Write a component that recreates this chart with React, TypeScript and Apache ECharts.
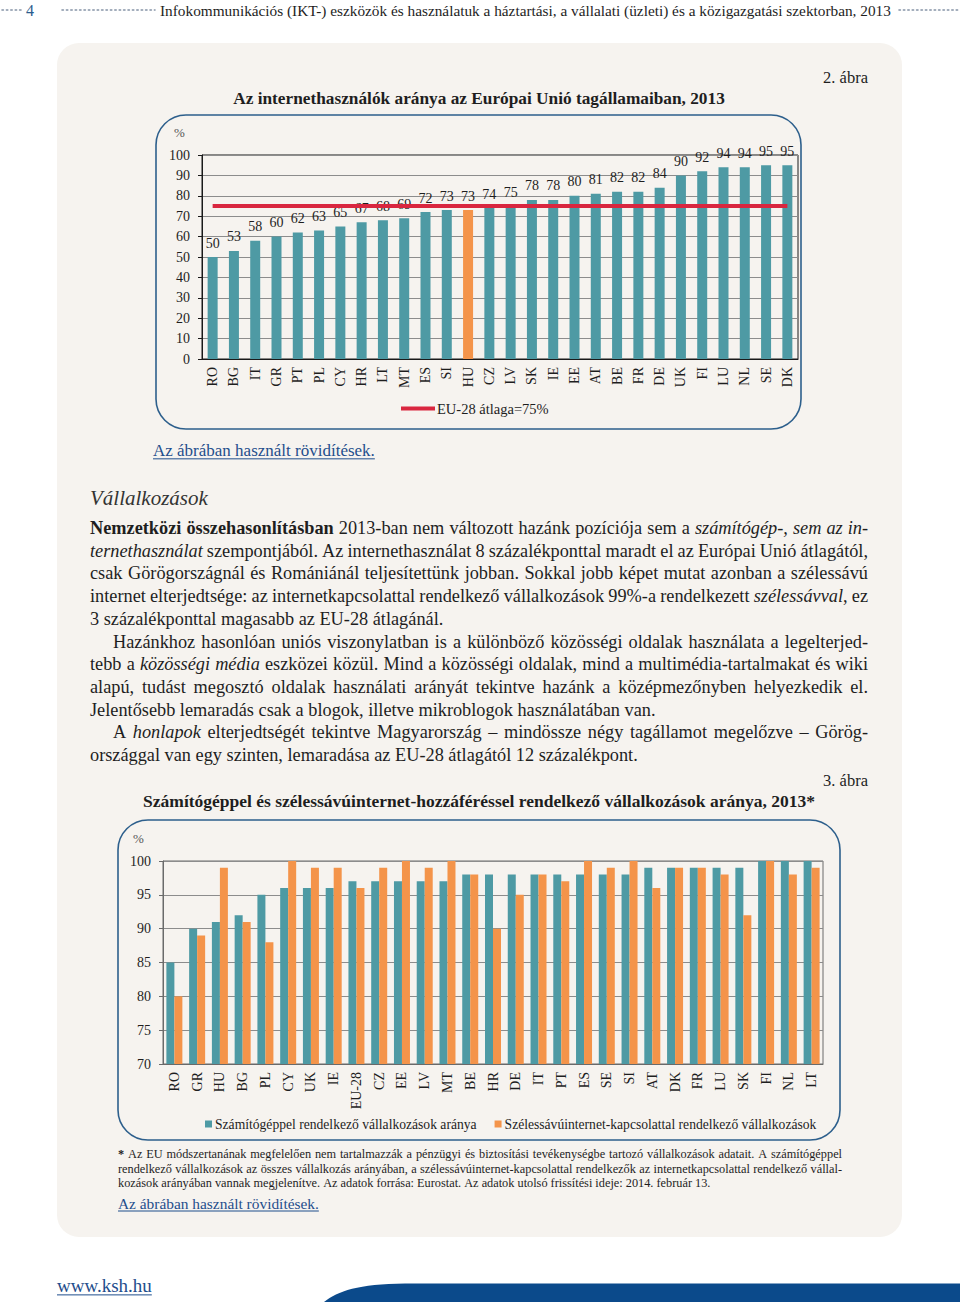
import React, { useEffect, useRef } from 'react';
import * as echarts from 'echarts';

// ---------- data ----------
const euCountries = ['RO', 'BG', 'IT', 'GR', 'PT', 'PL', 'CY', 'HR', 'LT', 'MT', 'ES', 'SI', 'HU', 'CZ', 'LV', 'SK', 'IE', 'EE', 'AT', 'BE', 'FR', 'DE', 'UK', 'FI', 'LU', 'NL', 'SE', 'DK'];
const internetUsers = [50, 53, 58, 60, 62, 63, 65, 67, 68, 69, 72, 73, 73, 74, 75, 78, 78, 80, 81, 82, 82, 84, 90, 92, 94, 94, 95, 95];
const euAverage = 75;
const highlightCountry = 'HU';
const averageName = 'EU-28 átlaga=75%';

const firmCountries = ['RO', 'GR', 'HU', 'BG', 'PL', 'CY', 'UK', 'IE', 'EU-28', 'CZ', 'EE', 'LV', 'MT', 'BE', 'HR', 'DE', 'IT', 'PT', 'ES', 'SE', 'SI', 'AT', 'DK', 'FR', 'LU', 'SK', 'FI', 'NL', 'LT'];
const computerShare = [85, 90, 91, 92, 95, 96, 96, 96, 97, 97, 97, 97, 97, 98, 98, 98, 98, 98, 98, 98, 98, 99, 99, 99, 99, 99, 100, 100, 100];
const broadbandShare = [80, 89, 99, 91, 88, 100, 99, 99, 96, 99, 100, 99, 100, 98, 90, 95, 98, 97, 100, 99, 100, 96, 99, 99, 98, 92, 100, 98, 99];
const computerName = 'Számítógéppel rendelkező vállalkozások aránya';
const broadbandName = 'Szélessávúinternet-kapcsolattal rendelkező vállalkozások';

const headerTitle = 'Infokommunikációs (IKT-) eszközök és használatuk a háztartási, a vállalati (üzleti) és a közigazgatási szektorban, 2013';
const pageNumber = '4';
const figure2Label = '2. ábra';
const figure2Title = 'Az internethasználók aránya az Európai Unió tagállamaiban, 2013';
const figure3Label = '3. ábra';
const figure3Title = 'Számítógéppel és szélessávúinternet-hozzáféréssel rendelkező vállalkozások aránya, 2013*';
const abbrevLink = 'Az ábrában használt rövidítések.';
const sectionHeading = 'Vállalkozások';
const siteLink = 'www.ksh.hu';

// ^...^ = bold, ~...~ = italic
const paragraphs = [
  [
    '^Nemzetközi összehasonlításban^ 2013-ban nem változott hazánk pozíciója sem a ~számítógép-, sem az in-~',
    '~ternethasználat~ szempontjából. Az internethasználat 8 százalékponttal maradt el az Európai Unió átlagától,',
    'csak Görögországnál és Romániánál teljesítettünk jobban. Sokkal jobb képet mutat azonban a szélessávú',
    'internet elterjedtsége: az internetkapcsolattal rendelkező vállalkozások 99%-a rendelkezett ~szélessávval~, ez',
    '3 százalékponttal magasabb az EU-28 átlagánál.',
  ],
  [
    'Hazánkhoz hasonlóan uniós viszonylatban is a különböző közösségi oldalak használata a legelterjed-',
    'tebb a ~közösségi média~ eszközei közül. Mind a közösségi oldalak, mind a multimédia-tartalmakat és wiki',
    'alapú, tudást megosztó oldalak használati arányát tekintve hazánk a középmezőnyben helyezkedik el.',
    'Jelentősebb lemaradás csak a blogok, illetve mikroblogok használatában van.',
  ],
  [
    'A ~honlapok~ elterjedtségét tekintve Magyarország – mindössze négy tagállamot megelőzve – Görög-',
    'országgal van egy szinten, lemaradása az EU-28 átlagától 12 százalékpont.',
  ],
];

const footnoteLines = [
  '^*^ Az EU módszertanának megfelelően nem tartalmazzák a pénzügyi és biztosítási tevékenységbe tartozó vállalkozások adatait. A számítógéppel',
  'rendelkező vállalkozások az összes vállalkozás arányában, a szélessávúinternet-kapcsolattal rendelkezők az internetkapcsolattal rendelkező vállal-',
  'kozások arányában vannak megjelenítve. Az adatok forrása: Eurostat. Az adatok utolsó frissítési ideje: 2014. február 13.',
];

// ---------- styles ----------
const FONT = "'Liberation Serif', 'Times New Roman', serif";
const TEAL = '#4e9aa4';
const ORANGE = '#f4944a';
const RED = '#d9263f';
const FRAME_BLUE = '#2d5f8c';
const LINK_BLUE = '#1f4e8c';
const TEXT = '#1e1e1e';
const PAGE_BG = '#f6f3ef';

let registered = false;
function registerShapes() {
  if (registered) return;
  registered = true;
  echarts.graphic.registerShape(
    'kshBand',
    echarts.graphic.extendPath('M324,1302 C338,1291 358,1284 405,1283.5 L960,1283.5 L960,1302 Z', {})
  );
}

type Piece = { t: string; b: boolean; i: boolean };

let measureCtx: CanvasRenderingContext2D | null = null;
function fontStr(size: number, b: boolean, i: boolean) {
  return `${i ? 'italic ' : ''}${b ? 'bold ' : ''}${size}px ${FONT}`;
}
function measure(t: string, size: number, b = false, i = false) {
  if (!measureCtx) measureCtx = document.createElement('canvas').getContext('2d');
  measureCtx!.font = fontStr(size, b, i);
  return measureCtx!.measureText(t).width;
}

function parseLine(line: string): Piece[][] {
  const words: Piece[][] = [];
  let b = false;
  let i = false;
  for (const w of line.split(' ')) {
    if (!w) continue;
    const pieces: Piece[] = [];
    let cur = '';
    for (const ch of w) {
      if (ch === '^' || ch === '~') {
        if (cur) pieces.push({ t: cur, b, i });
        cur = '';
        if (ch === '^') b = !b;
        else i = !i;
      } else cur += ch;
    }
    if (cur) pieces.push({ t: cur, b, i });
    if (pieces.length) words.push(pieces);
  }
  return words;
}

function textEl(t: string, x: number, y: number, size: number, o: any = {}) {
  return {
    type: 'text',
    x,
    y,
    silent: true,
    z: 10,
    style: {
      text: t,
      fontSize: size,
      fontFamily: FONT,
      fontWeight: o.b ? 'bold' : 'normal',
      fontStyle: o.i ? 'italic' : 'normal',
      fill: o.fill || TEXT,
      align: o.align || 'left',
      verticalAlign: 'middle',
    },
  };
}

function lineEls(line: string, x: number, y: number, width: number, justify: boolean, size: number, fill = TEXT) {
  const words = parseLine(line);
  const widths = words.map((w) => w.reduce((s, p) => s + measure(p.t, size, p.b, p.i), 0));
  const total = widths.reduce((a, c) => a + c, 0);
  const gap = justify && words.length > 1 ? (width - total) / (words.length - 1) : measure(' ', size);
  const els: any[] = [];
  let cx = x;
  words.forEach((pcs, k) => {
    let px = cx;
    pcs.forEach((p) => {
      els.push(textEl(p.t, px, y, size, { b: p.b, i: p.i, fill }));
      px += measure(p.t, size, p.b, p.i);
    });
    cx += widths[k] + gap;
  });
  return els;
}

function linkEls(t: string, x: number, y: number, size: number) {
  const w = measure(t, size);
  return [
    textEl(t, x, y, size, { fill: LINK_BLUE }),
    {
      type: 'line',
      silent: true,
      z: 10,
      shape: { x1: x, y1: y + size * 0.52, x2: x + w, y2: y + size * 0.52 },
      style: { stroke: LINK_BLUE, lineWidth: 1 },
    },
  ];
}

function dots(x1: number, x2: number, y: number) {
  return {
    type: 'line',
    silent: true,
    z: 10,
    shape: { x1, y1: y, x2, y2: y },
    style: { stroke: '#8593a6', lineWidth: 1.6, lineDash: [1.4, 3], lineCap: 'round' },
  };
}

function buildGraphics() {
  const els: any[] = [];
  // page background panel
  els.push({ type: 'rect', silent: true, z: -10, shape: { x: 57, y: 43, width: 845, height: 1194, r: 22 }, style: { fill: PAGE_BG } });
  // header
  els.push(dots(2, 22, 10));
  els.push(textEl(pageNumber, 26, 10, 16, { fill: '#2b5d8e' }));
  els.push(dots(62, 155, 10));
  els.push(textEl(headerTitle, 160, 10, 15.3));
  els.push(dots(899, 960, 10));
  // figure 2
  els.push(textEl(figure2Label, 868, 77, 16.5, { align: 'right' }));
  els.push(textEl(figure2Title, 479, 98, 17.3, { b: true, align: 'center' }));
  els.push({ type: 'rect', silent: true, z: 1, shape: { x: 156, y: 115, width: 645, height: 314, r: 30 }, style: { fill: 'none', stroke: FRAME_BLUE, lineWidth: 1.6 } });
  els.push(textEl('%', 174, 132, 13, { fill: '#555' }));
  els.push(...linkEls(abbrevLink, 153, 450, 17));
  // text section
  els.push(textEl(sectionHeading, 90, 498, 21, { i: true, fill: '#333' }));
  let lineIdx = 0;
  paragraphs.forEach((para, pi) => {
    para.forEach((line, li) => {
      const indent = pi > 0 && li === 0 ? 23 : 0;
      const y = 528 + lineIdx * 22.7;
      els.push(...lineEls(line, 90 + indent, y, 778 - indent, li < para.length - 1, 18.3));
      lineIdx++;
    });
  });
  // figure 3
  els.push(textEl(figure3Label, 868, 780, 16.5, { align: 'right' }));
  els.push(textEl(figure3Title, 479, 801, 17.5, { b: true, align: 'center' }));
  els.push({ type: 'rect', silent: true, z: 1, shape: { x: 118, y: 820, width: 722, height: 320, r: 30 }, style: { fill: 'none', stroke: FRAME_BLUE, lineWidth: 1.6 } });
  els.push(textEl('%', 133, 838, 13, { fill: '#555' }));
  footnoteLines.forEach((line, k) => {
    els.push(...lineEls(line, 118, 1154 + k * 14.6, 724, k < footnoteLines.length - 1, 12.3));
  });
  els.push(...linkEls(abbrevLink, 118, 1203, 15.4));
  // footer
  els.push(...linkEls(siteLink, 57, 1285, 19));
  els.push({ type: 'kshBand', silent: true, z: 5, x: 0, y: 0, scaleX: 1, scaleY: 1, style: { fill: '#0b4a8b' } });
  return els;
}

function buildOption() {
  const catAxis = (gridIndex: number, data: string[], color: string) => ({
    type: 'category',
    gridIndex,
    data,
    axisLine: { lineStyle: { color, width: 1 } },
    axisTick: { length: 5, lineStyle: { color } },
    axisLabel: { rotate: 90, fontSize: 14, color: TEXT, fontFamily: FONT, margin: 8, interval: 0 },
  });
  const valAxis = (gridIndex: number, min: number, max: number, interval: number, color: string) => ({
    type: 'value',
    gridIndex,
    min,
    max,
    interval,
    axisLine: { show: true, lineStyle: { color, width: 1 } },
    axisTick: { show: true, length: 4, lineStyle: { color } },
    splitLine: { show: true, lineStyle: { color: '#8c8c8c', width: 1 } },
    axisLabel: { fontSize: 14, color: TEXT, fontFamily: FONT, margin: 12 },
  });

  return {
    animation: false,
    backgroundColor: '#ffffff',
    textStyle: { fontFamily: FONT },
    grid: [
      { left: 202, top: 155, width: 596, height: 204, show: true, borderColor: '#1a1a1a', borderWidth: 1 },
      { left: 163, top: 861, width: 660, height: 203, show: true, borderColor: '#6a6a6a', borderWidth: 1 },
    ],
    xAxis: [catAxis(0, euCountries, '#1a1a1a'), catAxis(1, firmCountries, '#6a6a6a')],
    yAxis: [valAxis(0, 0, 100, 10, '#1a1a1a'), valAxis(1, 70, 100, 5, '#6a6a6a')],
    legend: [
      {
        data: [averageName],
        left: 396,
        top: 396,
        icon: 'rect',
        itemWidth: 34,
        itemHeight: 4,
        itemGap: 4,
        selectedMode: false,
        textStyle: { fontSize: 14.5, color: TEXT, fontFamily: FONT, padding: [0, 0, 0, -3] },
      },
      {
        data: [computerName, broadbandName],
        left: 200,
        top: 1112,
        icon: 'rect',
        itemWidth: 7,
        itemHeight: 7,
        itemGap: 18,
        selectedMode: false,
        textStyle: { fontSize: 13.6, color: TEXT, fontFamily: FONT, padding: [0, 0, 0, -2] },
      },
    ],
    series: [
      {
        type: 'bar',
        name: 'Internethasználók',
        xAxisIndex: 0,
        yAxisIndex: 0,
        barWidth: 10,
        itemStyle: { color: TEAL },
        data: internetUsers.map((v, k) => (euCountries[k] === highlightCountry ? { value: v, itemStyle: { color: ORANGE } } : v)),
        label: { show: true, position: 'top', distance: 7, fontSize: 14, color: TEXT, fontFamily: FONT },
        z: 2,
      },
      {
        type: 'line',
        name: averageName,
        xAxisIndex: 0,
        yAxisIndex: 0,
        color: RED,
        symbol: 'none',
        lineStyle: { color: RED, width: 4 },
        itemStyle: { color: RED },
        data: euCountries.map(() => euAverage),
        z: 4,
      },
      {
        type: 'bar',
        name: computerName,
        xAxisIndex: 1,
        yAxisIndex: 1,
        barWidth: 8,
        barGap: '0%',
        itemStyle: { color: TEAL },
        data: computerShare,
      },
      {
        type: 'bar',
        name: broadbandName,
        xAxisIndex: 1,
        yAxisIndex: 1,
        barWidth: 8,
        barGap: '0%',
        itemStyle: { color: ORANGE },
        data: broadbandShare,
      },
    ],
    graphic: { elements: buildGraphics() },
  };
}

export default function App() {
  const ref = useRef<HTMLDivElement>(null);
  useEffect(() => {
    registerShapes();
    const chart = echarts.init(ref.current!, null, { renderer: 'svg' });
    chart.setOption(buildOption() as any);
    return () => chart.dispose();
  }, []);
  return (
    <div
      ref={ref}
      style={{ position: 'absolute', left: 0, top: 0, width: 960, height: 1308, background: '#ffffff' }}
    />
  );
}
